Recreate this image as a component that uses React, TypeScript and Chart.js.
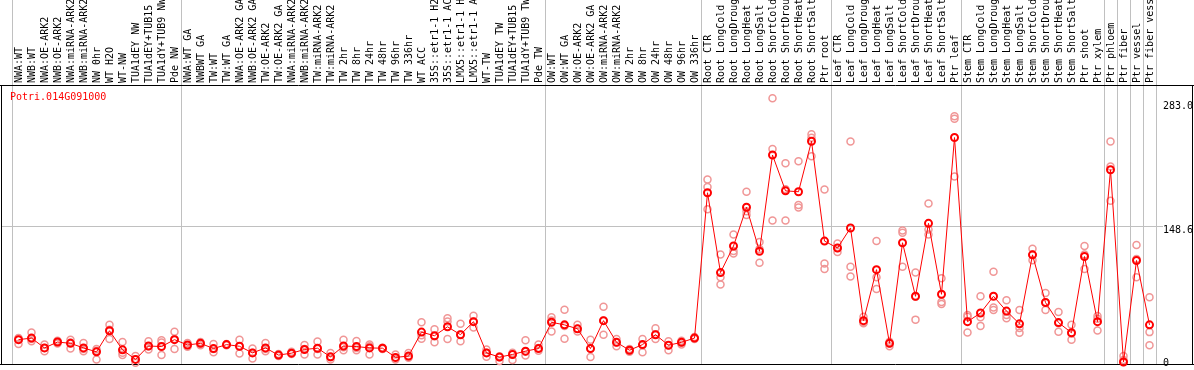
import React, { useEffect, useRef } from 'react';
import { Chart, registerables } from 'chart.js';

Chart.register(...registerables);

const geneId = 'Potri.014G091000';

const categories = [
  'NWA:WT', 'NWB:WT', 'NWA:OE-ARK2', 'NWB:OE-ARK2', 'NWA:miRNA-ARK2', 'NWB:miRNA-ARK2',
  'NW 0hr', 'WT H2O', 'WT-NW', 'TUA1dEY NW', 'TUA1dEY+TUB15 NW', 'TUA1dY+TUB9 NW', 'Pde NW',
  'NWA:WT GA', 'NWBWT GA', 'TW:WT', 'TW:WT GA', 'NWA:OE-ARK2 GA', 'NWB:OE-ARK2 GA',
  'TW:OE-ARK2', 'TW:OE-ARK2 GA', 'NWA:miRNA-ARK2', 'NWB:miRNA-ARK2', 'TW:miRNA-ARK2',
  'TW:miRNA-ARK2', 'TW 2hr', 'TW 8hr', 'TW 24hr', 'TW 48hr', 'TW 96hr', 'TW 336hr', 'WT ACC',
  '35S::etr1-1 H2O', '35S::etr1-1 ACC', 'LMX5::etr1-1 H2O', 'LMX5::etr1-1 ACC', 'WT-TW',
  'TUA1dEY TW', 'TUA1dEY+TUB15 TW', 'TUA1dY+TUB9 TW', 'Pde TW',
  'OW:WT', 'OW:WT GA', 'OW:OE-ARK2', 'OW:OE-ARK2 GA', 'OW:miRNA-ARK2', 'OW:miRNA-ARK2',
  'OW 2hr', 'OW 8hr', 'OW 24hr', 'OW 48hr', 'OW 96hr', 'OW 336hr',
  'Root CTR', 'Root LongCold', 'Root LongDrought', 'Root LongHeat', 'Root LongSalt',
  'Root ShortCold', 'Root ShortDrought', 'Root ShortHeat', 'Root ShortSalt', 'Ptr root',
  'Leaf CTR', 'Leaf LongCold', 'Leaf LongDrought', 'Leaf LongHeat', 'Leaf LongSalt',
  'Leaf ShortCold', 'Leaf ShortDrought', 'Leaf ShortHeat', 'Leaf ShortSalt', 'Ptr leaf',
  'Stem CTR', 'Stem LongCold', 'Stem LongDrought', 'Stem LongHeat', 'Stem LongSalt',
  'Stem ShortCold', 'Stem ShortDrought', 'Stem ShortHeat', 'Stem ShortSalt', 'Ptr shoot',
  'Ptr xylem', 'Ptr phloem', 'Ptr fiber', 'Ptr vessel', 'Ptr fiber vessel',
];

const meanValues = [
  25.2, 26.9, 16.2, 22.6, 21.2, 16.2, 11.9, 34.9, 14.1, 3.7, 18.3, 17.7, 25.2,
  19.4, 21.2, 15.5, 19.8, 18.0, 10.8, 16.2, 8.4, 10.5, 14.5, 15.9, 6.5, 18.3, 17.7, 16.2,
  15.9, 5.9, 7.3, 33.4, 29.5, 39.2, 30.6, 44.8, 10.8, 6.2, 9.1, 12.7, 15.5,
  44.1, 41.3, 37.0, 15.5, 45.9, 22.3, 13.7, 19.8, 30.6, 19.1, 22.3, 26.9,
  185.1, 98.2, 127.1, 169.3, 121.4, 226.2, 187.2, 186.2, 241.2, 132.5,
  125.0, 146.8, 45.9, 101.4, 21.2, 130.7, 72.4, 151.8, 74.6, 245.2,
  44.8, 54.2, 72.4, 56.3, 42.4, 117.5, 65.6, 43.8, 32.7, 115.7, 44.8,
  210.1, 0.9, 111.4, 41.3,
];

const replicate1 = [
  27, 33, 19.8, 24, 25.2, 21.6, 15.1, 41.3, 22.6, 7.3, 23.4, 24.5, 33.8,
  21.5, 22.6, 20.5, 20.5, 25.2, 15.5, 21.6, 8.4, 12, 19.4, 23.1, 10.8, 25.2, 23.7, 19.8,
  15, 9.1, 10.8, 44.1, 36.6, 48.4, 42.4, 51.3, 14.5, 1.9, 3, 24.5, 19.8,
  49.5, 57.7, 41.3, 25.2, 60.9, 25.9, 15, 25.9, 37.7, 23.4, 24, 27,
  199.4, 117.8, 139.6, 186.2, 131.4, 288.1, 217.3, 219.4, 248.7, 188.6,
  129.9, 240.9, 50.2, 132.5, 23, 143.9, 98.2, 173.3, 92.1, 268.3,
  52, 72.4, 99.2, 68.1, 57.4, 124.2, 76, 55.3, 41.3, 127.1, 51,
  240.9, 7.3, 128.2, 71.4,
];

const replicate2 = [
  25, 23.4, 12.7, 21, 15.5, 12.7, 3.7, 25.9, 8.4, 0.1, 14.5, 8.4, 15.1,
  17.5, 19, 11.6, 19, 10.2, 4.8, 12.7, 7.5, 9.5, 9.1, 9.1, 3.7, 13.7, 13.7, 9.1,
  16.5, 3.7, 5.5, 26.3, 22.3, 45, 23.4, 38.4, 6.5, 7, 11, 8, 13,
  34.1, 26.3, 34, 6.2, 30.6, 18, 12, 11.6, 25.9, 13.7, 20, 26,
  191.5, 93.1, 121.8, 161, 108.9, 232.6, 189, 171.8, 224.8, 108.2,
  120.7, 104.6, 44, 93.1, 18, 141.5, 47, 145, 66.3, 265.6,
  50, 49.5, 60.2, 52, 38, 111.7, 57.4, 33.8, 25.2, 102, 35.2,
  213.6, 3, 93.1, 33.4,
];

const replicate3 = [
  20.5, 26, 16, 23, 22, 15, 13, 36, 11, 4, 18, 22, 26,
  19, 21, 15, 19.5, 18, 11, 15, 9.5, 10.5, 15, 15, 6, 17, 16, 18,
  16, 5, 6.5, 30, 29, 25.9, 31, 45, 11, 6, 9, 12, 16,
  46, 40, 37, 15.5, 46, 22, 13, 19, 31, 19, 22, 28,
  167.2, 85.3, 118.9, 165, 124, 155, 155, 169, 245, 102,
  125, 93.9, 43, 80.3, 21, 104.6, 72, 139.6, 64, 202.9,
  33, 40.2, 57.4, 48.4, 32.7, 118, 66, 43, 32, 118, 48,
  176.5, 1, 113, 19.1,
];

const yTickValues = [0, 148.6, 283.0];
const yTickLabels = ['0', '148.6', '283.0'];
const separatorIndices = [0, 13, 41, 53, 63, 73, 84, 85, 86, 87, 88];

const FONT = "'DejaVu Sans Mono', 'Liberation Mono', monospace";
const GRAY = 'rgb(192,192,192)';
const RED = 'rgb(255,0,0)';
const PINK = 'rgb(240,150,150)';

const sepColor = (ctx: any) => {
  const i = ctx.index === undefined ? categories.length : ctx.index;
  return separatorIndices.includes(i) ? GRAY : 'rgba(0,0,0,0)';
};

const yGridColor = (ctx: any) =>
  ctx.tick && Math.abs(ctx.tick.value - 148.6) < 1e-6 ? GRAY : 'rgba(0,0,0,0)';

const framePlugin = {
  id: 'frame',
  beforeDatasetsDraw(chart: any) {
    const ctx = chart.ctx;
    const { top, bottom, left } = chart.chartArea;
    const w = chart.width;
    const yScale = chart.scales.y;
    ctx.save();
    ctx.lineWidth = 1;
    ctx.strokeStyle = GRAY;
    const gy = Math.round(yScale.getPixelForValue(148.6)) + 0.5;
    ctx.beginPath();
    ctx.moveTo(1, gy);
    ctx.lineTo(left, gy);
    ctx.stroke();
    ctx.strokeStyle = '#000';
    ctx.beginPath();
    ctx.moveTo(0, top + 0.5);
    ctx.lineTo(w, top + 0.5);
    ctx.moveTo(1.5, top);
    ctx.lineTo(1.5, bottom + 1);
    ctx.moveTo(0, bottom + 0.5);
    ctx.lineTo(w, bottom + 0.5);
    ctx.moveTo(w - 1.5, top);
    ctx.lineTo(w - 1.5, bottom + 1);
    ctx.stroke();
    ctx.restore();
  },
};

const replicateDataset = (label: string, data: number[]) => ({
  label,
  data,
  showLine: false,
  order: 1,
  clip: false as any,
  pointRadius: 3.5,
  pointBorderWidth: 1.5,
  pointBorderColor: PINK,
  pointBackgroundColor: 'rgba(0,0,0,0)',
  borderColor: PINK,
});

export default function App() {
  const canvasRef = useRef<HTMLCanvasElement | null>(null);

  useEffect(() => {
    if (!canvasRef.current) return;
    const chart = new Chart(canvasRef.current, {
      type: 'line',
      data: {
        labels: categories,
        datasets: [
          {
            label: 'mean',
            data: meanValues,
            order: 0,
            clip: false as any,
            borderColor: RED,
            borderWidth: 1,
            tension: 0,
            pointRadius: 3.5,
            pointBorderWidth: 2,
            pointBorderColor: RED,
            pointBackgroundColor: 'rgba(0,0,0,0)',
          },
          replicateDataset('rep1', replicate1),
          replicateDataset('rep2', replicate2),
          replicateDataset('rep3', replicate3),
        ],
      },
      options: {
        animation: false,
        responsive: true,
        maintainAspectRatio: false,
        events: [],
        layout: { padding: { left: 12, right: 0, top: 0, bottom: 2 } },
        plugins: {
          legend: { display: false },
          tooltip: { enabled: false },
          title: { display: false },
        },
        scales: {
          x: {
            type: 'category',
            position: 'top',
            offset: true,
            grid: {
              offset: true,
              color: sepColor,
              tickColor: sepColor,
              tickLength: 85,
              lineWidth: 1,
              drawOnChartArea: true,
            },
            border: { display: false },
            ticks: {
              autoSkip: false,
              minRotation: 90,
              maxRotation: 90,
              padding: -83,
              labelOffset: 13,
              color: '#000',
              font: { family: FONT, size: 10 },
            },
            afterFit: (s: any) => {
              s.height = 85;
              s.paddingLeft = 0;
              s.paddingRight = 0;
            },
          },
          y: {
            type: 'linear',
            position: 'right',
            min: -1.3,
            max: 302.4,
            afterBuildTicks: (s: any) => {
              s.ticks = yTickValues.map((v) => ({ value: v }));
            },
            grid: {
              color: yGridColor,
              tickColor: yGridColor,
              tickLength: 7,
              lineWidth: 1,
              drawOnChartArea: true,
            },
            border: { display: false },
            ticks: {
              padding: 0,
              labelOffset: 4,
              color: '#000',
              font: (ctx: any) => ({
                family: FONT,
                size: 10,
                lineHeight: ctx.index === 0 ? 0.65 : 1.2,
              }),
              callback: (_v: any, i: number) => (i === 0 ? [yTickLabels[i], ''] : yTickLabels[i]),
            },
            afterFit: (s: any) => {
              s.width = 38;
              s.paddingTop = 0;
              s.paddingBottom = 0;
            },
          },
        },
      },
      plugins: [framePlugin],
    });
    return () => chart.destroy();
  }, []);

  return (
    <div
      style={{
        position: 'fixed',
        left: 0,
        top: 0,
        width: 1194,
        height: 370,
        background: '#fff',
        overflow: 'hidden',
      }}
    >
      <canvas ref={canvasRef} style={{ display: 'block' }} />
      <div
        style={{
          position: 'absolute',
          left: 10,
          top: 91,
          color: RED,
          fontFamily: FONT,
          fontSize: 10,
          lineHeight: '12px',
          whiteSpace: 'nowrap',
        }}
      >
        {geneId}
      </div>
    </div>
  );
}
